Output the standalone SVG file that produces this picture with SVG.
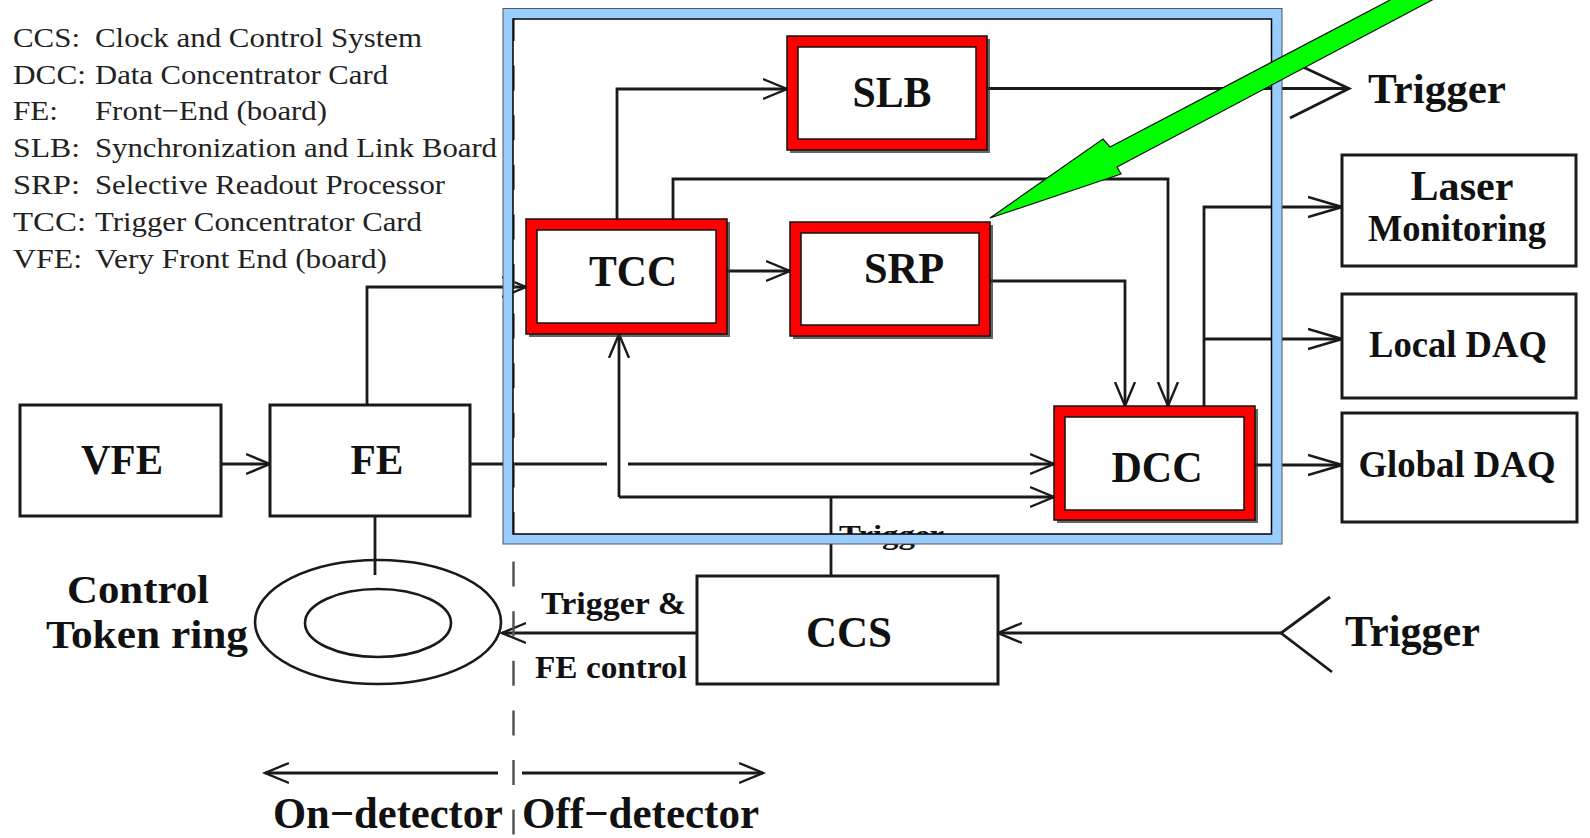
<svg xmlns="http://www.w3.org/2000/svg" width="1590" height="838" viewBox="0 0 1590 838">
<defs>
<style>
.ln{fill:none;stroke:#1a1a1a;stroke-width:2.8}
.box{fill:#fff;stroke:#1a1a1a;stroke-width:3}
.lb{font-family:"Liberation Serif","Times New Roman",serif;font-weight:bold;fill:#111}
.lg{font-family:"Liberation Serif","Times New Roman",serif;font-size:28px;fill:#222}
.redo{fill:#f00;stroke:#111;stroke-width:1.5}
.redi{fill:#fff;stroke:#111;stroke-width:1.5}
.sh{fill:#333;opacity:0.75}
</style>
<marker id="ah" markerUnits="userSpaceOnUse" markerWidth="28" markerHeight="24" viewBox="0 -12 28 24" refX="24" refY="0" orient="auto">
<path d="M0,-10 L24,0 L0,10" fill="none" stroke="#1a1a1a" stroke-width="2.4"/>
</marker>
<marker id="ahL" markerUnits="userSpaceOnUse" markerWidth="38" markerHeight="24" viewBox="0 -12 38 24" refX="34" refY="0" orient="auto">
<path d="M0,-10 L34,0 L0,10" fill="none" stroke="#1a1a1a" stroke-width="2.6"/>
</marker>
</defs>
<rect width="1590" height="838" fill="#fff"/>

<g id="legend">
<text class="lg" x="13" y="47" textLength="67" lengthAdjust="spacingAndGlyphs">CCS:</text>
<text class="lg" x="95" y="47" textLength="327" lengthAdjust="spacingAndGlyphs">Clock and Control System</text>
<text class="lg" x="13" y="84" textLength="73" lengthAdjust="spacingAndGlyphs">DCC:</text>
<text class="lg" x="95" y="84" textLength="293" lengthAdjust="spacingAndGlyphs">Data Concentrator Card</text>
<text class="lg" x="13" y="120" textLength="45" lengthAdjust="spacingAndGlyphs">FE:</text>
<text class="lg" x="95" y="120" textLength="232" lengthAdjust="spacingAndGlyphs">Front−End (board)</text>
<text class="lg" x="13" y="157" textLength="67" lengthAdjust="spacingAndGlyphs">SLB:</text>
<text class="lg" x="95" y="157" textLength="402" lengthAdjust="spacingAndGlyphs">Synchronization and Link Board</text>
<text class="lg" x="13" y="194" textLength="67" lengthAdjust="spacingAndGlyphs">SRP:</text>
<text class="lg" x="95" y="194" textLength="350" lengthAdjust="spacingAndGlyphs">Selective Readout Processor</text>
<text class="lg" x="13" y="231" textLength="73" lengthAdjust="spacingAndGlyphs">TCC:</text>
<text class="lg" x="95" y="231" textLength="327" lengthAdjust="spacingAndGlyphs">Trigger Concentrator Card</text>
<text class="lg" x="13" y="268" textLength="69" lengthAdjust="spacingAndGlyphs">VFE:</text>
<text class="lg" x="95" y="268" textLength="292" lengthAdjust="spacingAndGlyphs">Very Front End (board)</text>
</g>

<g id="connectors">
<path class="ln" d="M221,464 H270" marker-end="url(#ah)"/>
<path class="ln" d="M367,405 V287 H526" marker-end="url(#ah)"/>
<path class="ln" d="M470,464 H607"/>
<path class="ln" d="M628,464 H1054" marker-end="url(#ah)"/>
<path class="ln" d="M831,576 V497"/>
<path class="ln" d="M619,497 V334" marker-end="url(#ah)"/>
<path class="ln" d="M619,497 H1054" marker-end="url(#ah)"/>
<path class="ln" d="M617,219 V89 H787" marker-end="url(#ah)"/>
<path class="ln" d="M673,219 V179 H1168 V406" marker-end="url(#ah)"/>
<path class="ln" d="M727,271 H790" marker-end="url(#ah)"/>
<path class="ln" d="M990,281 H1125 V406" marker-end="url(#ah)"/>
<path class="ln" d="M987,88.5 H1348"/>
<path class="ln" d="M1303,67 L1349,88.5 L1290,118" stroke-width="3"/>
<path class="ln" d="M1204,406 V207 H1342" marker-end="url(#ahL)"/>
<path class="ln" d="M1204,339 H1342" marker-end="url(#ahL)"/>
<path class="ln" d="M1255,465 H1342" marker-end="url(#ahL)"/>
<path class="ln" d="M697,633 H502" marker-end="url(#ah)"/>
<path class="ln" d="M1281,633 H998" marker-end="url(#ah)"/>
<path class="ln" d="M1330,597 L1281,633 L1332,672"/>
<path class="ln" d="M375,516 V575"/>
<path class="ln" d="M498,773 H265" marker-end="url(#ah)"/>
<path class="ln" d="M522,773 H763" marker-end="url(#ah)"/>
</g>

<g id="VFE">
<rect class="box" x="20" y="405" width="201" height="111"/>
<text class="lb" x="122" y="474" font-size="42" text-anchor="middle" textLength="82" lengthAdjust="spacingAndGlyphs">VFE</text>
</g>
<g id="FE">
<rect class="box" x="270" y="405" width="200" height="111"/>
<text class="lb" x="377" y="474" font-size="42" text-anchor="middle" textLength="53" lengthAdjust="spacingAndGlyphs">FE</text>
</g>
<g id="ring">
<ellipse cx="378" cy="622" rx="123" ry="62" fill="none" stroke="#1a1a1a" stroke-width="2.6"/>
<ellipse cx="378" cy="623" rx="73" ry="34" fill="none" stroke="#1a1a1a" stroke-width="2.6"/>
<text class="lb" x="67" y="603" font-size="40" textLength="142" lengthAdjust="spacingAndGlyphs">Control</text>
<text class="lb" x="46" y="648" font-size="40" textLength="202" lengthAdjust="spacingAndGlyphs">Token ring</text>
</g>
<g id="CCS">
<rect class="box" x="697" y="576" width="301" height="108"/>
<text class="lb" x="849" y="647" font-size="44" text-anchor="middle" textLength="86" lengthAdjust="spacingAndGlyphs">CCS</text>
</g>
<g id="labels">
<text class="lb" x="541" y="614" font-size="32" textLength="145" lengthAdjust="spacingAndGlyphs">Trigger &amp;</text>
<text class="lb" x="535" y="678" font-size="32" textLength="152" lengthAdjust="spacingAndGlyphs">FE control</text>
<text class="lb" x="839" y="544" font-size="28" textLength="105" lengthAdjust="spacingAndGlyphs">Trigger</text>
<text class="lb" x="1368" y="103" font-size="42" textLength="138" lengthAdjust="spacingAndGlyphs">Trigger</text>
<text class="lb" x="1345" y="646" font-size="44" textLength="135" lengthAdjust="spacingAndGlyphs">Trigger</text>
<text class="lb" x="273" y="828" font-size="44" textLength="230" lengthAdjust="spacingAndGlyphs">On−detector</text>
<text class="lb" x="522" y="828" font-size="44" textLength="237" lengthAdjust="spacingAndGlyphs">Off−detector</text>
</g>
<g id="Laser">
<rect class="box" x="1342" y="155" width="234" height="111"/>
<text class="lb" x="1462" y="200" font-size="42" text-anchor="middle" textLength="103" lengthAdjust="spacingAndGlyphs">Laser</text>
<text class="lb" x="1457" y="241" font-size="37" text-anchor="middle" textLength="178" lengthAdjust="spacingAndGlyphs">Monitoring</text>
</g>
<g id="LocalDAQ">
<rect class="box" x="1342" y="294" width="234" height="104"/>
<text class="lb" x="1458" y="357" font-size="37" text-anchor="middle" textLength="178" lengthAdjust="spacingAndGlyphs">Local DAQ</text>
</g>
<g id="GlobalDAQ">
<rect class="box" x="1342" y="413" width="235" height="109"/>
<text class="lb" x="1457" y="477" font-size="37" text-anchor="middle" textLength="197" lengthAdjust="spacingAndGlyphs">Global DAQ</text>
</g>

<g id="divider">
<line x1="513.5" y1="16" x2="513.5" y2="838" stroke="#555" stroke-width="2.5" stroke-dasharray="25 24.6"/>
</g>

<g id="frame">
<rect x="508" y="13.5" width="769" height="525.5" fill="none" stroke="#99ccff" stroke-width="10"/>
<rect x="503" y="8.5" width="779" height="535.5" fill="none" stroke="#555" stroke-width="1"/>
<rect x="513" y="19" width="758.5" height="515" fill="none" stroke="#000" stroke-width="1.5"/>
</g>

<g id="SLB">
<rect class="sh" x="790" y="39" width="200" height="114"/>
<rect class="redo" x="787" y="36" width="200" height="114"/>
<rect class="redi" x="798" y="47" width="178" height="92"/>
<text class="lb" x="892" y="107" font-size="44" text-anchor="middle" textLength="79" lengthAdjust="spacingAndGlyphs">SLB</text>
</g>
<g id="TCC">
<rect class="sh" x="529" y="222" width="201" height="115"/>
<rect class="redo" x="526" y="219" width="201" height="115"/>
<rect class="redi" x="537" y="230" width="179" height="93"/>
<text class="lb" x="633" y="286" font-size="44" text-anchor="middle" textLength="88" lengthAdjust="spacingAndGlyphs">TCC</text>
</g>
<g id="SRP">
<rect class="sh" x="793" y="225" width="200" height="114"/>
<rect class="redo" x="790" y="222" width="200" height="114"/>
<rect class="redi" x="801" y="233" width="178" height="92"/>
<text class="lb" x="904" y="283" font-size="44" text-anchor="middle" textLength="80" lengthAdjust="spacingAndGlyphs">SRP</text>
</g>
<g id="DCC">
<rect class="sh" x="1057" y="409" width="201" height="114"/>
<rect class="redo" x="1054" y="406" width="201" height="114"/>
<rect class="redi" x="1065" y="417" width="179" height="93"/>
<text class="lb" x="1157" y="482" font-size="44" text-anchor="middle" textLength="91" lengthAdjust="spacingAndGlyphs">DCC</text>
</g>

<g id="pointer">
<polygon points="990,218 1103,139 1110,147 1392,-1 1434,-1 1117,167 1121,174" fill="#00ff00" stroke="#111" stroke-width="1.2" stroke-linejoin="miter"/>
</g>
</svg>
